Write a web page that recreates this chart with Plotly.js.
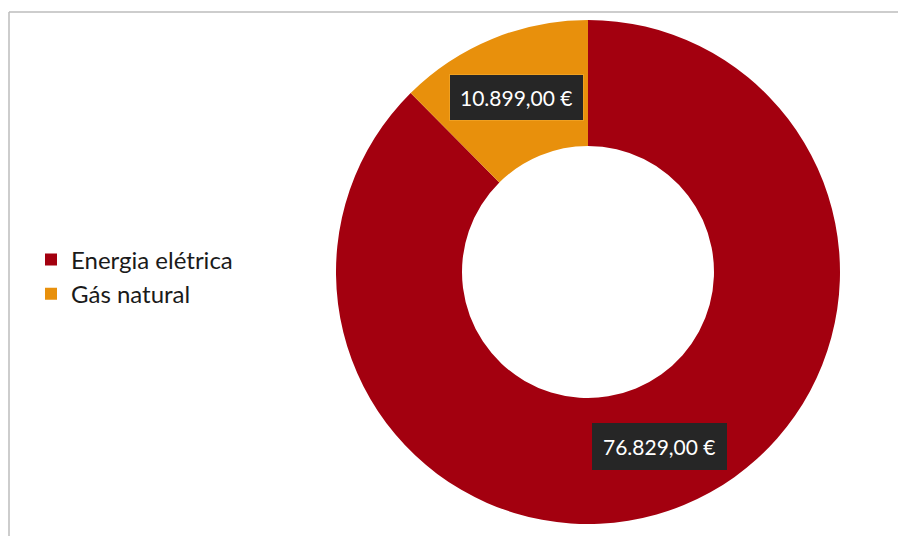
<!DOCTYPE html>
<html>
<head>
<meta charset="utf-8">
<script src="https://cdn.plot.ly/plotly-3.0.1.min.js"></script>
<style>html,body{margin:0;padding:0;background:#fff;}#chart{width:898px;height:536px;}</style>
</head>
<body>
<div id="chart"></div>
<script>
const categories = ["Energia elétrica", "Gás natural"];
const values = [76829, 10899];
const valueLabels = ["76.829,00 €", "10.899,00 €"];
const colors = ["#A3000F", "#E8900C"];

const W = 898, H = 536;
const cx = 588, cy = 272, R = 252, hole = 0.5;

const total = values.reduce((a, b) => a + b, 0);
const annotations = [];
let acc = 0;
values.forEach((v, i) => {
  const mid = (acc + v / 2) / total * 2 * Math.PI;
  acc += v;
  const r = R * (1 + hole) / 2;
  const px = cx + r * Math.sin(mid);
  const py = cy - r * Math.cos(mid);
  annotations.push({
    x: px / W, y: 1 - py / H, xref: "paper", yref: "paper",
    xanchor: "center", yanchor: "middle",
    text: valueLabels[i], showarrow: false,
    font: {family: "Lato, 'Open Sans', sans-serif", size: 21, color: "#ffffff"},
    bgcolor: "#262626", borderpad: 10,
    bordercolor: i === 1 ? "#F0A020" : "#262626", borderwidth: 1
  });
});

const data = [{
  type: "pie",
  labels: categories,
  values: values,
  hole: hole,
  sort: false,
  direction: "clockwise",
  rotation: 0,
  textinfo: "none",
  hoverinfo: "label+value",
  marker: {colors: colors, line: {width: 0}},
  domain: {x: [(cx - R) / W, (cx + R) / W], y: [1 - (cy + R) / H, 1 - (cy - R) / H]}
}];

const layout = {
  width: W, height: H,
  margin: {l: 0, r: 0, t: 0, b: 0},
  paper_bgcolor: "#ffffff",
  showlegend: true,
  legend: {
    x: 31 / W, y: 1 - 277 / H, xanchor: "left", yanchor: "middle",
    font: {family: "Lato, 'Open Sans', sans-serif", size: 24, color: "#1a1a1a"},
    itemwidth: 30, bgcolor: "rgba(0,0,0,0)"
  },
  annotations: annotations,
  shapes: [
    {type: "line", xref: "paper", yref: "paper", x0: 9 / W, x1: 1, y0: 1 - 12 / H, y1: 1 - 12 / H, line: {color: "#bdbdbd", width: 1.5}},
    {type: "line", xref: "paper", yref: "paper", x0: 9 / W, x1: 9 / W, y0: 0, y1: 1 - 12 / H, line: {color: "#bdbdbd", width: 1.5}}
  ]
};

Plotly.newPlot("chart", data, layout, {displayModeBar: false, staticPlot: true});
</script>
</body>
</html>
